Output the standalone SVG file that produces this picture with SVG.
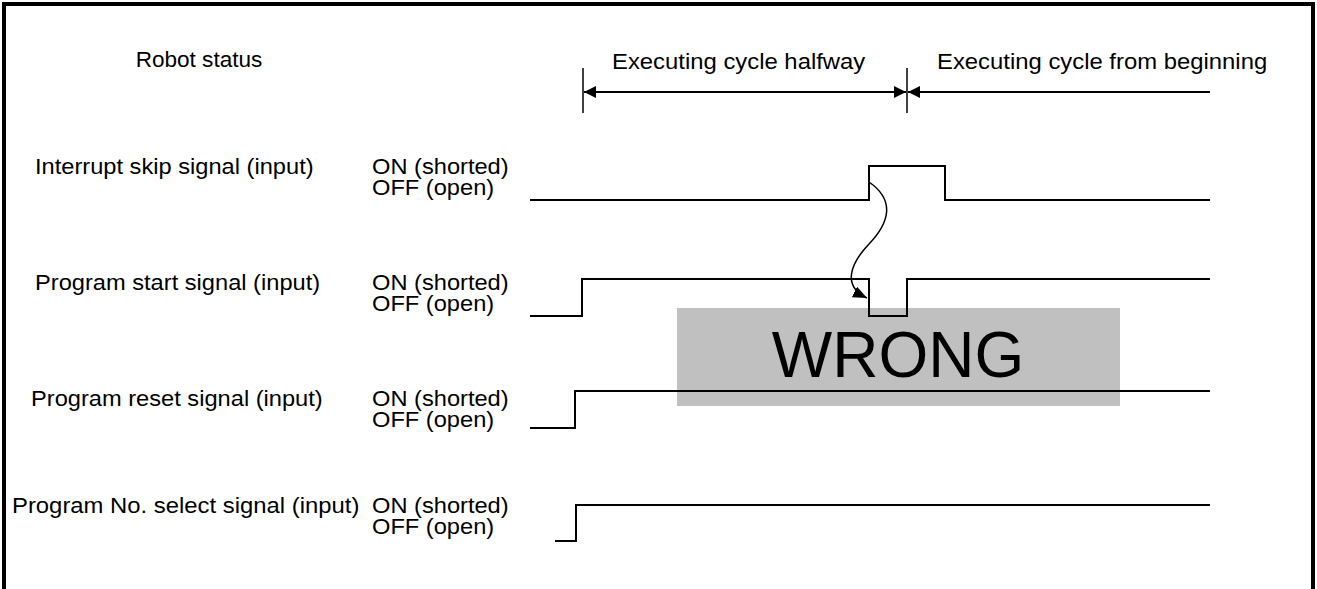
<svg xmlns="http://www.w3.org/2000/svg" width="1317" height="589" viewBox="0 0 1317 589">
<defs>
<marker id="ah" markerWidth="16" markerHeight="12" refX="14" refY="6" orient="auto" markerUnits="userSpaceOnUse">
<path d="M0,0 L14,6 L0,12 Z" fill="#000"/>
</marker>
<marker id="ah2" markerWidth="14" markerHeight="12" refX="12" refY="6" orient="auto-start-reverse" markerUnits="userSpaceOnUse">
<path d="M0,0 L12,6 L0,12 Z" fill="#000"/>
</marker>
</defs>
<style>
text{font-family:"Liberation Sans",Arial,sans-serif;font-size:21.5px;fill:#000}
.sig{fill:none;stroke:#000;stroke-width:2}
.thin{fill:none;stroke:#000;stroke-width:1.5}
.frame{fill:none;stroke:#000;stroke-width:4}
</style>
<rect width="1317" height="589" fill="#fff"/>
<path class="frame" d="M4,589 L4,4 L1313,4 L1313,589"/>
<g id="header">
<text x="199" y="67" text-anchor="middle" transform="translate(199,0) scale(1.05,1) translate(-199,0)">Robot status</text>
<text transform="translate(612,69) scale(1.11,1)">Executing cycle halfway</text>
<text transform="translate(937,69) scale(1.11,1)">Executing cycle from beginning</text>
</g>
<g id="wrong">
<rect x="677" y="308" width="443" height="98" fill="#c0c0c0"/>
<text x="898" y="377" text-anchor="middle" style="font-size:64px">WRONG</text>
</g>
<g id="row-interrupt">
<text transform="translate(35,174) scale(1.1,1)">Interrupt skip signal (input)</text>
<text transform="translate(372,174) scale(1.1,1)">ON (shorted)</text>
<text transform="translate(372,194.5) scale(1.1,1)">OFF (open)</text>
</g>
<g id="row-start">
<text transform="translate(35,290) scale(1.1,1)">Program start signal (input)</text>
<text transform="translate(372,290) scale(1.1,1)">ON (shorted)</text>
<text transform="translate(372,310.5) scale(1.1,1)">OFF (open)</text>
</g>
<g id="row-reset">
<text transform="translate(31,406) scale(1.1,1)">Program reset signal (input)</text>
<text transform="translate(372,406) scale(1.1,1)">ON (shorted)</text>
<text transform="translate(372,426.5) scale(1.1,1)">OFF (open)</text>
</g>
<g id="row-select">
<text transform="translate(12,513) scale(1.11,1)">Program No. select signal (input)</text>
<text transform="translate(372,513) scale(1.1,1)">ON (shorted)</text>
<text transform="translate(372,533.5) scale(1.1,1)">OFF (open)</text>
</g>
<g id="connectors">
<line class="thin" x1="583" y1="68" x2="583" y2="113"/>
<line class="thin" x1="907" y1="68" x2="907" y2="113"/>
<line class="sig" x1="584" y1="92" x2="906" y2="92" marker-start="url(#ah2)" marker-end="url(#ah2)"/>
<line class="sig" x1="908" y1="92" x2="1210" y2="92" marker-start="url(#ah2)"/>
<path class="sig" d="M530,200 H869 V166 H945 V200 H1210"/>
<path class="sig" d="M530,316 H582 V279 H869 V316 H907 V279 H1210"/>
<path class="sig" d="M530,428 H575 V391 H1210"/>
<path class="sig" d="M555,541 H576 V505 H1210"/>
<path class="thin" d="M869,182 C895,200 890,222 869,244 C850,264 842,286 867,298" marker-end="url(#ah)"/>
</g>
</svg>
